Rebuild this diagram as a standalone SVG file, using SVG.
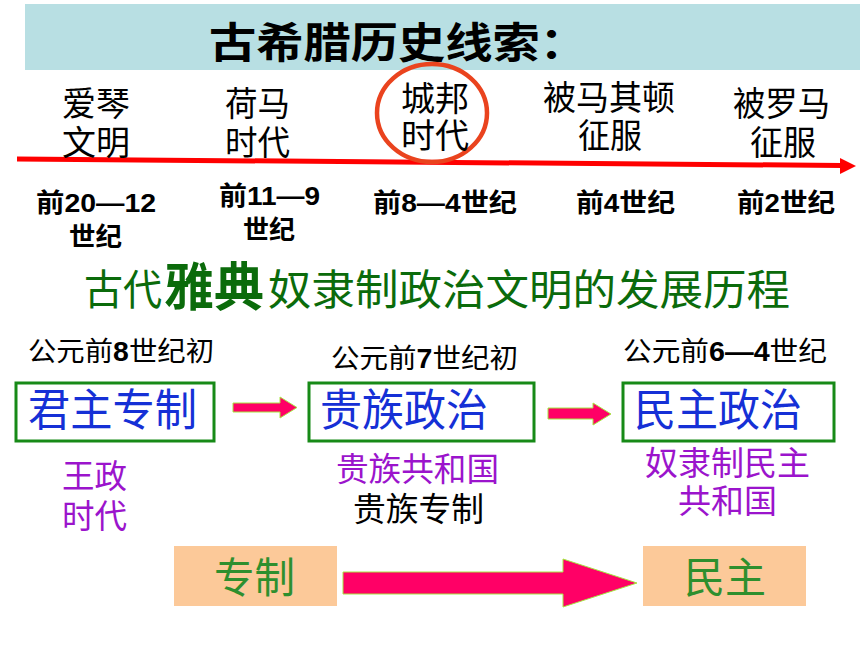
<svg xmlns="http://www.w3.org/2000/svg" width="860" height="645" viewBox="0 0 860 645">
<defs>
<style>
text{font-family:"Noto Sans CJK SC","Liberation Sans",sans-serif;}
.t{font-size:34px;fill:#000;text-anchor:start;}
.d{font-size:26px;font-weight:bold;fill:#000;}
.d tspan.n{font-family:"Liberation Sans","Noto Sans CJK SC",sans-serif;}
.p{font-size:33px;fill:#9B14CC;}
.l{font-size:27px;fill:#000;}
.l tspan.n{font-family:"Liberation Sans",sans-serif;font-weight:bold;}
.bx{fill:#fff;stroke:#178A17;stroke-width:3;}
.bt{font-size:44px;fill:#1530D6;}
.pk{fill:#FF0066;stroke:#A6E640;stroke-width:1;}
.pe{fill:#FCC999;}
.gt{font-size:42px;fill:#2E8F2E;}
</style>
</defs>
<rect x="25" y="4" width="835" height="66" fill="#B8DFE3"/>
<text x="209" y="58" font-size="42" font-weight="bold" textLength="378" lengthAdjust="spacingAndGlyphs">古希腊历史线索：</text>

<g id="timeline">
<line x1="17" y1="159" x2="842" y2="165.5" stroke="#FF0000" stroke-width="5"/>
<polygon points="840,158 856,166 840,174" fill="#FF0000"/>
</g>

<ellipse cx="432" cy="113" rx="55" ry="49" fill="none" stroke="#EA431E" stroke-width="4.5"/>

<g id="era1"><text class="t" x="62" y="116" textLength="68" lengthAdjust="spacingAndGlyphs">爱琴</text><text class="t" x="62" y="155" textLength="68" lengthAdjust="spacingAndGlyphs">文明</text></g>
<g id="era2"><text class="t" x="225" y="116" textLength="65" lengthAdjust="spacingAndGlyphs">荷马</text><text class="t" x="225" y="155" textLength="65" lengthAdjust="spacingAndGlyphs">时代</text></g>
<g id="era3"><text class="t" x="401" y="111" textLength="68" lengthAdjust="spacingAndGlyphs">城邦</text><text class="t" x="401" y="148" textLength="68" lengthAdjust="spacingAndGlyphs">时代</text></g>
<g id="era4"><text class="t" x="543" y="110" textLength="132" lengthAdjust="spacingAndGlyphs">被马其顿</text><text class="t" x="578" y="148" textLength="64" lengthAdjust="spacingAndGlyphs">征服</text></g>
<g id="era5"><text class="t" x="733" y="116" textLength="97" lengthAdjust="spacingAndGlyphs">被罗马</text><text class="t" x="750" y="155" textLength="66" lengthAdjust="spacingAndGlyphs">征服</text></g>

<g id="dates">
<text class="d" x="36" y="212" textLength="120" lengthAdjust="spacingAndGlyphs">前<tspan class="n">20—12</tspan></text>
<text class="d" x="69" y="246" textLength="53" lengthAdjust="spacingAndGlyphs">世纪</text>
<text class="d" x="219" y="205" textLength="101" lengthAdjust="spacingAndGlyphs">前<tspan class="n">11—9</tspan></text>
<text class="d" x="243" y="239" textLength="52" lengthAdjust="spacingAndGlyphs">世纪</text>
<text class="d" x="373" y="212" textLength="144" lengthAdjust="spacingAndGlyphs">前<tspan class="n">8—4</tspan>世纪</text>
<text class="d" x="576" y="212" textLength="99" lengthAdjust="spacingAndGlyphs">前<tspan class="n">4</tspan>世纪</text>
<text class="d" x="737" y="212" textLength="98" lengthAdjust="spacingAndGlyphs">前<tspan class="n">2</tspan>世纪</text>
</g>

<g id="heading" fill="#0B6B0B">
<text x="84" y="305" font-size="42" textLength="78" lengthAdjust="spacingAndGlyphs">古代</text>
<text x="164" y="306" font-size="52" font-weight="bold" textLength="100" lengthAdjust="spacingAndGlyphs">雅典</text>
<text x="268" y="305" font-size="42" textLength="522" lengthAdjust="spacingAndGlyphs">奴隶制政治文明的发展历程</text>
</g>

<g id="dates2">
<text class="l" x="28" y="361" textLength="186" lengthAdjust="spacingAndGlyphs">公元前<tspan class="n">8</tspan>世纪初</text>
<text class="l" x="331" y="368" textLength="187" lengthAdjust="spacingAndGlyphs">公元前<tspan class="n">7</tspan>世纪初</text>
<text class="l" x="623" y="361" textLength="204" lengthAdjust="spacingAndGlyphs">公元前<tspan class="n">6—4</tspan>世纪</text>
</g>

<g id="node-monarchy">
<rect class="bx" x="16" y="383" width="198" height="58"/>
<text class="bt" x="28" y="426" textLength="169" lengthAdjust="spacingAndGlyphs">君主专制</text>
</g>
<g id="node-aristocracy">
<rect class="bx" x="309" y="383" width="225" height="58"/>
<text class="bt" x="320" y="426" textLength="168" lengthAdjust="spacingAndGlyphs">贵族政治</text>
</g>
<g id="node-democracy">
<rect class="bx" x="623" y="383" width="211" height="58"/>
<text class="bt" x="634" y="426" textLength="168" lengthAdjust="spacingAndGlyphs">民主政治</text>
</g>

<g id="notes">
<text class="p" x="62" y="488" textLength="65" lengthAdjust="spacingAndGlyphs">王政</text>
<text class="p" x="62" y="528" textLength="65" lengthAdjust="spacingAndGlyphs">时代</text>
<text class="p" x="336" y="481" textLength="163" lengthAdjust="spacingAndGlyphs">贵族共和国</text>
<text class="p" x="353" y="521" textLength="131" lengthAdjust="spacingAndGlyphs" fill="#000" style="fill:#000">贵族专制</text>
<text class="p" x="645" y="475" textLength="165" lengthAdjust="spacingAndGlyphs">奴隶制民主</text>
<text class="p" x="678" y="513" textLength="99" lengthAdjust="spacingAndGlyphs">共和国</text>
</g>

<g id="node-zhuanzhi">
<rect class="pe" x="174" y="546" width="163" height="60"/>
<text class="gt" x="214" y="593" textLength="81" lengthAdjust="spacingAndGlyphs">专制</text>
</g>
<g id="node-minzhu">
<rect class="pe" x="643" y="546" width="163" height="60"/>
<text class="gt" x="684" y="593" textLength="82" lengthAdjust="spacingAndGlyphs">民主</text>
</g>

<g id="connectors">
<polygon class="pk" points="233,403 280,403 280,397 297,407.5 280,418 280,412 233,412"/>
<polygon class="pk" points="548,408 593,408 593,403 611,414 593,425 593,419 548,419"/>
<polygon class="pk" points="343,572 563,572 563,559 637,583 563,607 563,594 343,594"/>
</g>
</svg>
